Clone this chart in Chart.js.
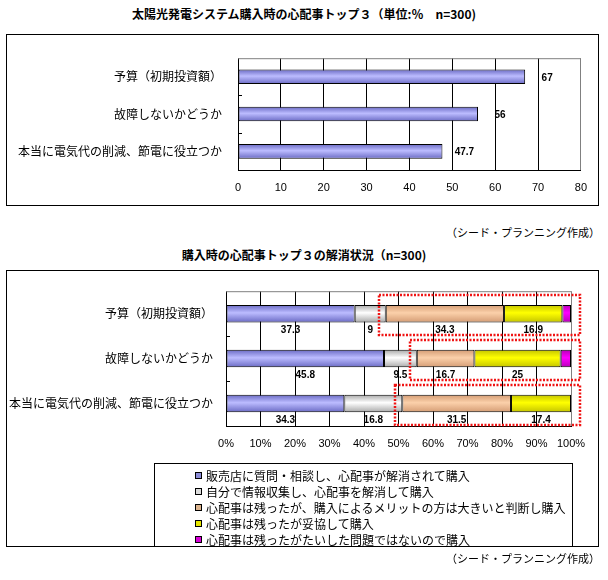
<!DOCTYPE html>
<html lang="ja">
<head>
<meta charset="utf-8">
<script src="https://cdn.jsdelivr.net/npm/chart.js@4.4.1/dist/chart.umd.min.js"></script>
<style>
  body {
    margin: 0;
    width: 608px;
    height: 580px;
    position: relative;
    overflow: hidden;
    background: #fff;
    color: #000;
    font-family: "Noto Sans CJK JP", sans-serif;
  }
  .title {
    position: absolute;
    left: 0;
    width: 608px;
    text-align: center;
    font-size: 12px;
    font-weight: bold;
    line-height: 16px;
  }
  .frame {
    position: absolute;
    left: 6px;
    width: 593px;
    border: 1px solid #000;
    box-sizing: border-box;
  }
  .credit {
    position: absolute;
    right: 8px;
    font-size: 11px;
    line-height: 14px;
  }
  canvas { position: absolute; }
  #legend {
    position: absolute;
    left: 154px;
    top: 463px;
    width: 419px;
    height: 84px;
    border: 1px solid #000;
    box-sizing: border-box;
    padding: 3px 0 0 40px;
    font-size: 12px;
  }
  #legend .item {
    display: flex;
    align-items: center;
    height: 16px;
    white-space: nowrap;
  }
  #legend .swatch {
    width: 7px;
    height: 7px;
    border: 1px solid #000;
    box-sizing: border-box;
    margin-right: 4px;
  }
</style>
</head>
<body>
<div class="title" style="top:6px">太陽光発電システム購入時の心配事トップ３（単位:％　n=300)</div>
<div class="frame" style="top:34px;height:172px"></div>
<canvas id="worries" width="591" height="170" style="left:7px;top:35px"></canvas>
<div class="credit" style="top:225px">（シード・プランニング作成）</div>

<div class="title" style="top:247px">購入時の心配事トップ３の解消状況（n=300)</div>
<div class="frame" style="top:270px;height:277px"></div>
<canvas id="resolution" width="591" height="275" style="left:7px;top:271px"></canvas>
<div id="legend"></div>
<div class="credit" style="top:551px">（シード・プランニング作成）</div>

<script>
// --- data ---
const concerns = [
  "予算（初期投資額）",
  "故障しないかどうか",
  "本当に電気代の削減、節電に役立つか",
];
const concernShare = [67, 56, 47.7];

const outcomeLabels = [
  "販売店に質問・相談し、心配事が解消されて購入",
  "自分で情報収集し、心配事を解消して購入",
  "心配事は残ったが、購入によるメリットの方は大きいと判断し購入",
  "心配事は残ったが妥協して購入",
  "心配事は残ったがたいした問題ではないので購入",
];
const askedShop = [37.3, 45.8, 34.3];
const selfResearch = [9, 9.5, 16.8];
const meritWins = [34.3, 16.7, 31.5];
const compromised = [16.9, 25, 17.4];
const minorIssue = [2.5, 3, 0];

const concernTicks = [0, 10, 20, 30, 40, 50, 60, 70, 80];
const percentTicks = [0, 10, 20, 30, 40, 50, 60, 70, 80, 90, 100];

// --- styles ---
const BAR_PCT = 0.39;
const shades = [
  ["#bcbcff", "#6a6ac4"],
  ["#ffffff", "#a8a8a8"],
  ["#fbd0aa", "#d49c74"],
  ["#ffff00", "#c4c400"],
  ["#ff00ff", "#b800b8"],
];
const swatches = ["#8c8cd8", "#dcdcdc", "#dcb48e", "#e6e600", "#d800d8"];

Chart.defaults.font.family = '"Noto Sans CJK JP", sans-serif';
Chart.defaults.color = "#000";

function shade(light, dark) {
  return (c) => {
    const chart = c.chart;
    const ys = chart.scales.y;
    if (c.type !== "data" || !ys) return light;
    const mid = ys.getPixelForValue(c.dataIndex);
    const half = (ys.height / chart.data.labels.length) * BAR_PCT / 2;
    // options are also resolved once before the layout exists
    if (!isFinite(mid) || !isFinite(half) || half <= 0) return light;
    const g = chart.ctx.createLinearGradient(0, mid - half, 0, mid + half);
    g.addColorStop(0, dark);
    g.addColorStop(0.45, light);
    g.addColorStop(1, dark);
    return g;
  };
}

// gray top edge of the plot area and the little inside ticks on the category axis
const plotFrame = {
  id: "plotFrame",
  beforeDatasetsDraw(chart) {
    const { ctx, chartArea: a } = chart;
    const n = chart.data.labels.length;
    const step = a.height / n;
    ctx.save();
    ctx.lineWidth = 1;
    ctx.strokeStyle = "#808080";
    ctx.beginPath();
    ctx.moveTo(a.left, a.top + 0.5);
    ctx.lineTo(a.right, a.top + 0.5);
    ctx.stroke();
    ctx.strokeStyle = "#000";
    ctx.beginPath();
    for (let i = 1; i < n; i++) {
      const y = Math.round(a.top + step * i) + 0.5;
      ctx.moveTo(a.left, y);
      ctx.lineTo(a.left + 4, y);
    }
    ctx.stroke();
    ctx.restore();
  },
};

const endLabels = {
  id: "endLabels",
  afterDatasetsDraw(chart) {
    const ctx = chart.ctx;
    const meta = chart.getDatasetMeta(0);
    ctx.save();
    ctx.font = "bold 10px 'Liberation Sans', Arial, sans-serif";
    ctx.fillStyle = "#000";
    ctx.textAlign = "center";
    ctx.textBaseline = "middle";
    meta.data.forEach((bar, i) => {
      ctx.fillText(String(concernShare[i]), bar.x + 22, bar.y + 1);
    });
    ctx.restore();
  },
};

const segmentLabels = {
  id: "segmentLabels",
  afterDatasetsDraw(chart) {
    const ctx = chart.ctx;
    const a = chart.chartArea;
    ctx.save();
    ctx.font = "bold 10px 'Liberation Sans', Arial, sans-serif";
    ctx.fillStyle = "#000";
    ctx.textAlign = "center";
    ctx.textBaseline = "middle";
    // the last series has no labels in the original
    chart.data.datasets.slice(0, 4).forEach((ds, d) => {
      chart.getDatasetMeta(d).data.forEach((bar, i) => {
        if (!ds.data[i]) return;
        ctx.fillText(String(ds.data[i]), (bar.x + bar.base) / 2, bar.y + 16.5);
      });
    });

    // red dotted boxes around the "worry remained" part of each bar
    ctx.strokeStyle = "#f01414";
    ctx.lineWidth = 2.5;
    ctx.setLineDash([2, 1.5]);
    chart.getDatasetMeta(1).data.forEach((bar) => {
      const left = Math.round(bar.x - 7);
      const right = Math.round(a.right + 9);
      const top = Math.round(bar.y - 18.5);
      const bottom = Math.round(bar.y + 21);
      ctx.strokeRect(left, top, right - left, bottom - top);
    });
    ctx.restore();
  },
};

const htmlLegend = {
  id: "htmlLegend",
  afterUpdate(chart) {
    const box = document.getElementById("legend");
    box.innerHTML = "";
    chart.data.datasets.forEach((ds, i) => {
      const row = document.createElement("div");
      row.className = "item";
      const sw = document.createElement("span");
      sw.className = "swatch";
      sw.style.background = swatches[i];
      const txt = document.createElement("span");
      txt.textContent = ds.label;
      row.append(sw, txt);
      box.append(row);
    });
  },
};

function valueAxis(max, ticks, fmt) {
  return {
    min: 0,
    max: max,
    afterBuildTicks: (s) => { s.ticks = ticks.map((v) => ({ value: v })); },
    ticks: {
      padding: 11,
      font: { family: "'Liberation Sans', Arial, sans-serif", size: 11 },
      color: "#000",
      callback: fmt,
    },
    grid: {
      drawTicks: false,
      lineWidth: 1,
      color: (c) => (c.tick && c.tick.value === max ? "#808080" : "#000"),
    },
    border: { color: "#000", width: 1 },
  };
}

function categoryAxis(width, pad) {
  return {
    afterFit: (s) => { s.width = width; },
    grid: { display: false, drawTicks: false },
    border: { color: "#000", width: 1 },
    ticks: { padding: pad, font: { size: 12 }, color: "#000" },
  };
}

// --- chart 1: top 3 worries ---
const xTop = valueAxis(80, concernTicks, (v) => v);
xTop.afterFit = (s) => { s.height = 35; };

new Chart(document.getElementById("worries"), {
  type: "bar",
  data: {
    labels: concerns,
    datasets: [{
      label: "心配事",
      data: concernShare,
      backgroundColor: shade(shades[0][0], shades[0][1]),
      borderColor: "#000",
      borderWidth: 1,
      borderSkipped: false,
      categoryPercentage: 1,
      barPercentage: BAR_PCT,
    }],
  },
  options: {
    indexAxis: "y",
    responsive: false,
    animation: false,
    layout: { padding: { top: 8, right: 15, left: 0, bottom: 0 } },
    plugins: { legend: { display: false }, tooltip: { enabled: false } },
    scales: { x: xTop, y: categoryAxis(231, 16) },
  },
  plugins: [plotFrame, endLabels],
});

// --- chart 2: how the worries were resolved ---
const outcomeSeries = [askedShop, selfResearch, meritWins, compromised, minorIssue];

const xBottom = valueAxis(100, percentTicks, (v) => v + "%");
xBottom.stacked = true;
xBottom.afterFit = (s) => { s.height = 120; };
const yBottom = categoryAxis(219, 13);
yBottom.stacked = true;

new Chart(document.getElementById("resolution"), {
  type: "bar",
  data: {
    labels: concerns,
    datasets: outcomeSeries.map((vals, i) => ({
      label: outcomeLabels[i],
      data: vals,
      backgroundColor: shade(shades[i][0], shades[i][1]),
      borderColor: "#000",
      borderWidth: 1,
      borderSkipped: false,
      categoryPercentage: 1,
      barPercentage: BAR_PCT,
    })),
  },
  options: {
    indexAxis: "y",
    responsive: false,
    animation: false,
    layout: { padding: { top: 7, right: 27, left: 0, bottom: 0 } },
    plugins: { legend: { display: false }, tooltip: { enabled: false } },
    scales: { x: xBottom, y: yBottom },
  },
  plugins: [plotFrame, segmentLabels, htmlLegend],
});
</script>
</body>
</html>
